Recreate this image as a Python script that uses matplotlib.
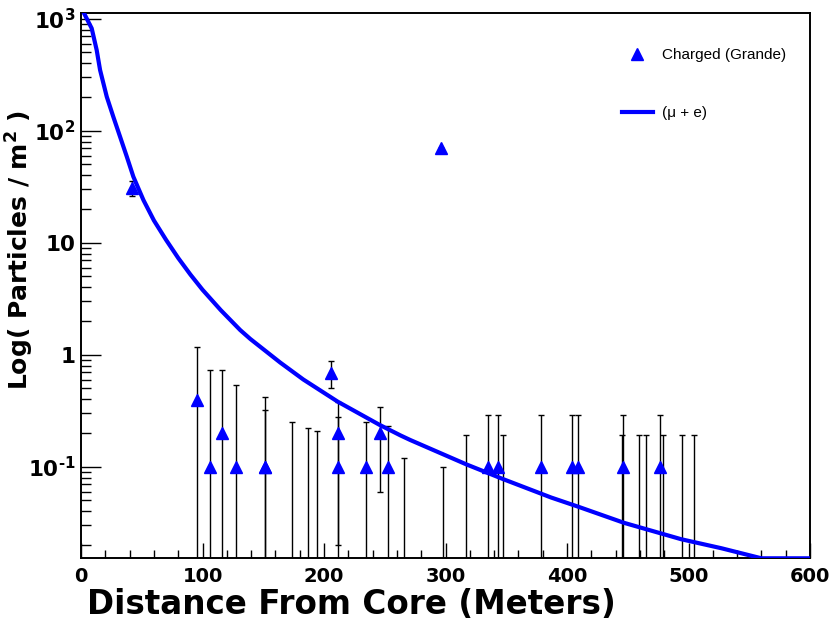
import numpy as np
import matplotlib
matplotlib.use('Agg')
import matplotlib.pyplot as plt
from matplotlib.lines import Line2D
from matplotlib.ticker import FixedLocator, LogLocator, MultipleLocator, FuncFormatter, NullFormatter

plt.rcParams['font.family'] = ['DejaVu Sans']
plt.rcParams['mathtext.fontset'] = 'custom'
plt.rcParams['mathtext.rm'] = 'DejaVu Sans'
plt.rcParams['mathtext.bf'] = 'DejaVu Sans:bold'
plt.rcParams['mathtext.it'] = 'DejaVu Sans:italic'

# charged particle density seen by the Grande stations
hit_dist = [42.3, 95.4, 105.8, 116.0, 127.8, 151.3, 151.8, 205.4, 211.4, 211.5, 234.2,
            245.8, 252.6, 296.1, 335.3, 342.9, 378.6, 404.4, 408.8, 446.4, 476.4]
hit_dens = [31, 0.39, 0.1, 0.2, 0.1, 0.1, 0.1, 0.69, 0.2, 0.1, 0.1,
            0.2, 0.1, 70, 0.1, 0.1, 0.1, 0.1, 0.1, 0.1, 0.1]
hit_err = [4.7, 0.78, 0.63, 0.53, 0.44, 0.32, 0.22, 0.19, 0.18, 0.18, 0.15,
           0.14, 0.13, 0.0, 0.19, 0.19, 0.19, 0.19, 0.19, 0.19, 0.19]

# stations with no particles, only the upper error is drawn
empty_dist = [173.8, 187.0, 194.6, 266.1, 297.9, 317.1, 347.6, 445.4, 459.6, 465.3, 479.4, 494.8, 504.3]
empty_upper = [0.25, 0.22, 0.21, 0.12, 0.10, 0.19, 0.19, 0.19, 0.19, 0.19, 0.19, 0.19, 0.19]

# (mu + e) lateral distribution
fit_dist = [2.5, 8.8, 12.9, 15.7, 21.2, 26.6, 32.2, 37.7, 43.1, 51.4, 60, 70, 80, 90, 100, 115,
            131, 139.4, 164, 183, 211.4, 245.8, 263, 271, 317, 348, 387, 409, 447, 494, 527, 560, 600]
fit_dens = [1117, 820, 525, 348, 201, 133, 88, 58.6, 38.8, 24, 15.8, 10.6, 7.3, 5.2, 3.8, 2.5,
            1.66, 1.38, 0.85, 0.6, 0.38, 0.236, 0.19, 0.173, 0.105, 0.077, 0.053, 0.044, 0.0315, 0.0225, 0.0187, 0.0149, 0.0149]

ymin, ymax = 0.0152, 1117

fig = plt.figure(figsize=(8.31, 6.21), dpi=100)
ax = fig.add_axes([81 / 831, 1 - 558.3 / 621, (810 - 81) / 831, (558.3 - 13.3) / 621])

hd = np.array(hit_dens)
he = np.array(hit_err)
lower = np.where(hd - he > 0, he, hd - 1e-6)
ax.errorbar(hit_dist, hit_dens, yerr=[lower, he], fmt='none', ecolor='black',
            elinewidth=1, capsize=2, capthick=1, zorder=2)
ax.errorbar(empty_dist, [1e-6] * len(empty_dist), yerr=[[0] * len(empty_dist), empty_upper],
            fmt='none', ecolor='black', elinewidth=1, capsize=2, capthick=1, zorder=2)

ax.plot(fit_dist, np.clip(fit_dens, ymin, None), color='#0000ff', lw=3, zorder=3)
ax.plot(hit_dist, hit_dens, linestyle='none', marker='^', ms=9, color='#0000ff', mec='#0000ff', zorder=4)

ax.set_yscale('log')
ax.set_xlim(0, 600)
ax.set_ylim(ymin, ymax)

ax.xaxis.set_major_locator(MultipleLocator(100))
ax.xaxis.set_minor_locator(MultipleLocator(20))
ax.yaxis.set_major_locator(FixedLocator([0.1, 1, 10, 100, 1000]))
ax.yaxis.set_minor_locator(LogLocator(base=10, subs=np.arange(2, 10)))
ax.yaxis.set_minor_formatter(NullFormatter())

def ylab(v, pos):
    e = int(round(np.log10(v)))
    if e == 0:
        return '1'
    if e == 1:
        return '10'
    return r'$\mathbf{10^{%s}}$' % str(e).replace('-', '\u2010')

ax.yaxis.set_major_formatter(FuncFormatter(ylab))

ax.tick_params(which='both', direction='in', top=False, right=False, color='black')
ax.tick_params(axis='y', which='major', length=14.4, width=1, labelsize=15.5, pad=4)
ax.tick_params(axis='y', which='minor', length=7.2, width=1)
ax.tick_params(axis='x', which='major', length=11, width=1, labelsize=14, pad=6)
ax.tick_params(axis='x', which='minor', length=5.5, width=1)
for lab in ax.get_xticklabels() + ax.get_yticklabels():
    lab.set_fontweight('bold')
for sp in ax.spines.values():
    sp.set_linewidth(1.4)

fig.text(351 / 831, 1 - 604 / 621, 'Distance From Core (Meters)', fontsize=23.5,
         fontweight='bold', ha='center', va='center')
fig.text(20 / 831, 1 - 250 / 621, r'Log( Particles / m$^\mathbf{2}$ )', fontsize=18,
         fontweight='bold', ha='center', va='center', rotation=90)

handles = [Line2D([], [], linestyle='none', marker='^', ms=8, color='#0000ff'),
           Line2D([], [], color='#0000ff', lw=3)]
ax.legend(handles, ['Charged (Grande)', '(\u03bc + e)'], loc='upper left',
          bbox_to_anchor=(622 / 831, 1 - 48 / 621), bbox_transform=fig.transFigure,
          prop={'family': 'Liberation Sans', 'size': 11}, frameon=False,
          handlelength=2.0, handletextpad=0.6, labelspacing=2.9, borderpad=0, borderaxespad=0)

fig.savefig('out.png', dpi=100)
